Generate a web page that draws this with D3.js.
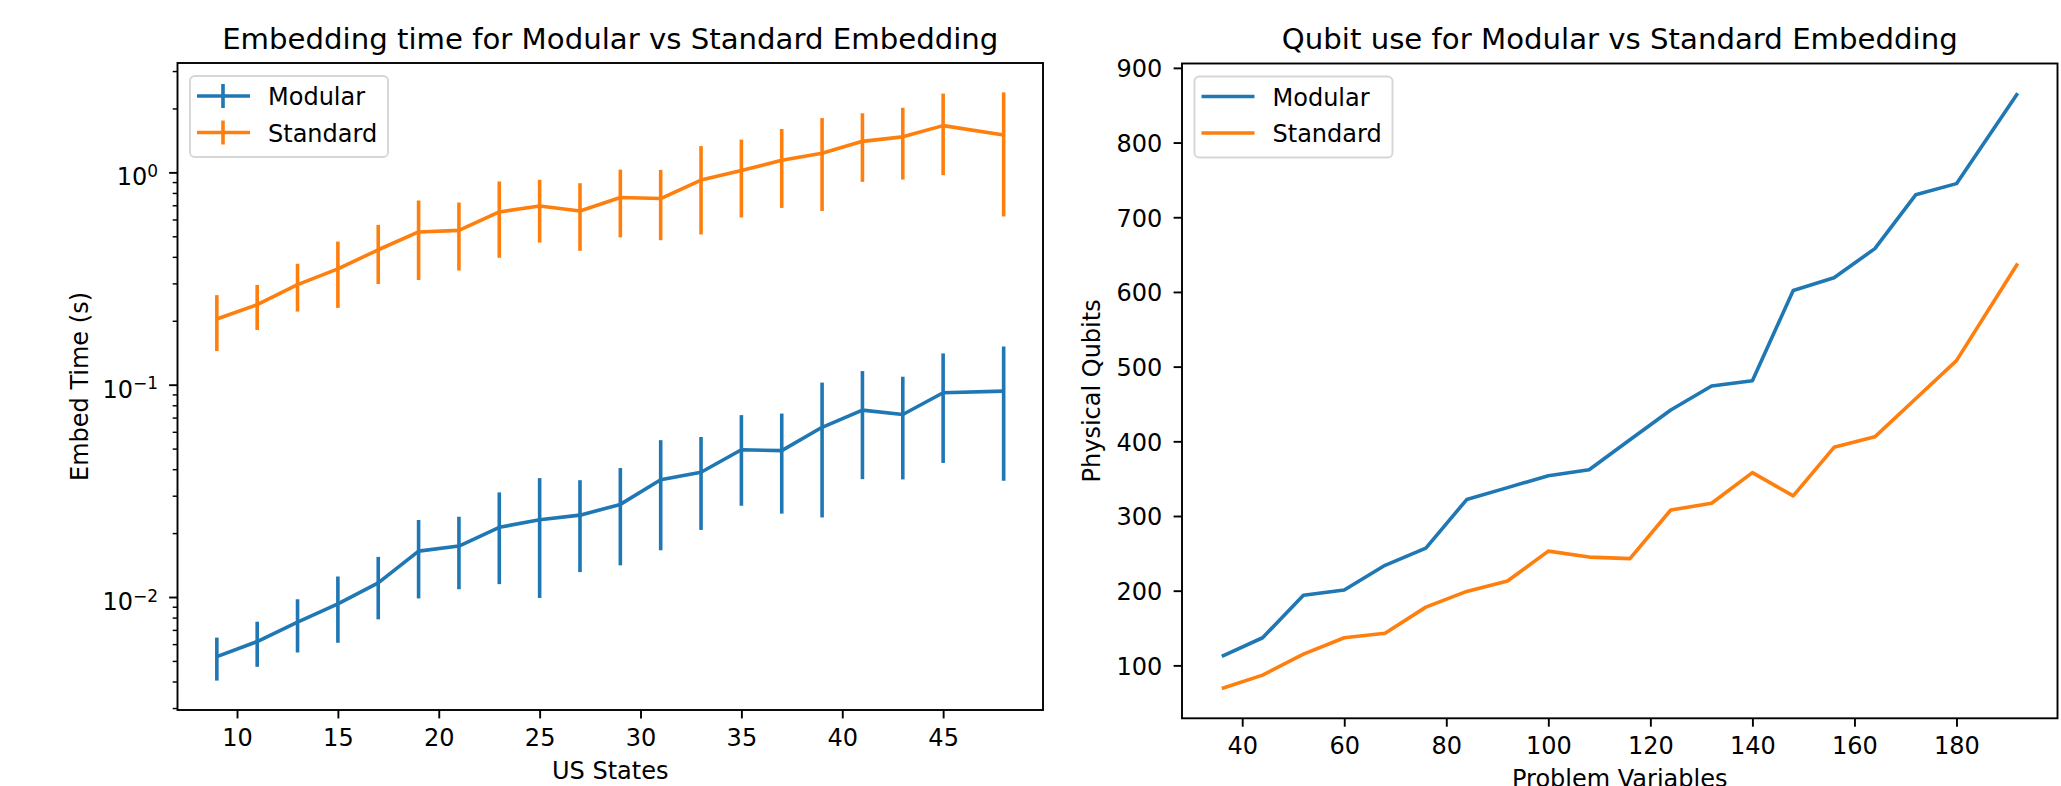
<!DOCTYPE html>
<html lang="en">
<head>
	<meta charset="utf-8">
	<title>Modular vs Standard Embedding</title>
	<script src="https://cdn.jsdelivr.net/npm/d3@7"></script>
	<style>
		body { margin: 0; background: #fff; }
		text { font-family: "DejaVu Sans", sans-serif; fill: #000; }
	</style>
</head>
<body>
	<script type="text/javascript">
        // US states in the problem and the mean / std of the embedding time (s)
        var usStates = [9, 11, 13, 15, 17, 19, 21, 23, 25, 27, 29, 31, 33, 35, 37, 39, 41, 43, 45, 48];
        var modularTime = [0.00524, 0.00617, 0.00762, 0.00929, 0.01165, 0.01645, 0.01738, 0.0213, 0.0231, 0.0243,
                           0.0273, 0.0357, 0.0387, 0.0494, 0.0489, 0.0630, 0.0759, 0.0724, 0.0916, 0.0933];
        var modularErr = [0.0012, 0.00148, 0.00214, 0.0032, 0.0038, 0.0066, 0.0065, 0.0098, 0.0132, 0.0112,
                          0.0132, 0.0191, 0.018, 0.0225, 0.0242, 0.0393, 0.040, 0.0366, 0.0488, 0.058];
        var standardTime = [0.204, 0.238, 0.296, 0.351, 0.432, 0.524, 0.533, 0.651, 0.695, 0.658,
                            0.762, 0.753, 0.920, 1.02, 1.14, 1.23, 1.40, 1.47, 1.66, 1.50];
        var standardErr = [0.060, 0.057, 0.075, 0.121, 0.134, 0.213, 0.188, 0.255, 0.228, 0.231,
                           0.268, 0.274, 0.41, 0.407, 0.46, 0.572, 0.498, 0.545, 0.69, 0.88];

        // problem variables and physical qubits used
        var problemVars = [36, 44, 52, 60, 68, 76, 84, 92, 100, 108, 116, 124, 132, 140, 148, 156, 164, 172, 180, 192];
        var modularQubits = [112, 137, 194, 201, 234, 257, 322, 338, 354, 362, 402, 442, 474, 481, 602, 619, 658, 730, 745, 866];
        var standardQubits = [69, 87, 115, 137, 143, 178, 199, 213, 253, 245, 243, 308, 317, 358, 327, 392, 406, 457, 508, 638];

        var seriesNames = ["Modular", "Standard"];
        var colors = ["#1f77b4", "#ff7f0e"];

        var width = 2061, height = 786;
        var fontSize = 24, titleSize = 29.2;
        var lineW = 3.6, spineW = 1.9;

        // axes boxes (pixels)
        var left = {x0: 177.5, x1: 1043, y0: 63, y1: 710};
        var right = {x0: 1182, x1: 2057.5, y0: 63.5, y1: 718.3};

        var svg = d3.select("body")
            .append("svg")
            .attr("width", width)
            .attr("height", height);

        // pad an extent by 5% like matplotlib does
        function padded(ext) {
            var p = 0.05 * (ext[1] - ext[0]);
            return [ext[0] - p, ext[1] + p];
        }

        /**
        ** Left chart: embedding time with error bars on a log axis
        **/
        var xL = d3.scaleLinear()
            .domain(padded(d3.extent(usStates)))
            .range([left.x0, left.x1]);

        var lows = [], highs = [];
        usStates.forEach(function(d, i) {
            lows.push(modularTime[i] - modularErr[i], standardTime[i] - standardErr[i]);
            highs.push(modularTime[i] + modularErr[i], standardTime[i] + standardErr[i]);
        });
        var logExt = padded([Math.log10(d3.min(lows)), Math.log10(d3.max(highs))]);
        var yL = d3.scaleLog()
            .domain([Math.pow(10, logExt[0]), Math.pow(10, logExt[1])])
            .range([left.y1, left.y0]);

        var gL = svg.append("g");
        var timeSeries = [[modularTime, modularErr], [standardTime, standardErr]];

        timeSeries.forEach(function(s, k) {
            var vals = s[0], errs = s[1];
            var line = d3.line()
                .x(function(d, i) { return xL(usStates[i]); })
                .y(function(d) { return yL(d); });
            gL.append("path")
                .datum(vals)
                .attr("d", line)
                .attr("fill", "none")
                .attr("stroke", colors[k])
                .attr("stroke-width", lineW)
                .attr("stroke-linejoin", "round");
            gL.selectAll(".err" + k)
                .data(vals)
                .enter()
                .append("line")
                .attr("x1", function(d, i) { return xL(usStates[i]); })
                .attr("x2", function(d, i) { return xL(usStates[i]); })
                .attr("y1", function(d, i) { return yL(d - errs[i]); })
                .attr("y2", function(d, i) { return yL(d + errs[i]); })
                .attr("stroke", colors[k])
                .attr("stroke-width", lineW);
        });

        // x axis
        var axL = svg.append("g")
            .attr("transform", "translate(0," + left.y1 + ")")
            .call(d3.axisBottom(xL).tickValues(d3.range(10, 46, 5)).tickSize(8.4).tickPadding(11).tickSizeOuter(0));
        styleAxis(axL);

        // y log axis: minor ticks then major ticks with 10^n labels
        var allTicks = yL.ticks();
        var majors = allTicks.filter(function(t) { return Math.abs(Math.log10(t) - Math.round(Math.log10(t))) < 1e-9; });
        var minors = allTicks.filter(function(t) { return majors.indexOf(t) < 0; });
        var minorAx = svg.append("g")
            .attr("transform", "translate(" + left.x0 + ",0)")
            .call(d3.axisLeft(yL).tickValues(minors).tickSize(4.8).tickFormat("").tickSizeOuter(0));
        styleAxis(minorAx);
        minorAx.selectAll(".tick line").attr("stroke-width", 1.45);

        var majorAx = svg.append("g")
            .attr("transform", "translate(" + left.x0 + ",0)")
            .call(d3.axisLeft(yL).tickValues(majors).tickSize(8.4).tickSizeOuter(0));
        styleAxis(majorAx);
        majorAx.selectAll(".tick text")
            .attr("x", -19.5)
            .attr("dy", null)
            .attr("y", 12.4)
            .text(null)
            .each(function(t) {
                var el = d3.select(this);
                var p = Math.round(Math.log10(t));
                el.append("tspan").text("10");
                el.append("tspan")
                    .attr("dy", -8.4)
                    .attr("font-size", 17)
                    .text(String(p).replace("-", "\u2212"));
            });

        frame(left);
        title(left, "Embedding time for Modular vs Standard Embedding");
        svg.append("text")
            .attr("x", (left.x0 + left.x1) / 2)
            .attr("y", 779)
            .attr("text-anchor", "middle")
            .attr("font-size", fontSize)
            .text("US States");
        yLabel(87.5, (left.y0 + left.y1) / 2, "Embed Time (s)");
        legend(left, true);

        /**
        ** Right chart: physical qubits used
        **/
        var xR = d3.scaleLinear()
            .domain(padded(d3.extent(problemVars)))
            .range([right.x0, right.x1]);
        var yR = d3.scaleLinear()
            .domain(padded(d3.extent(modularQubits.concat(standardQubits))))
            .range([right.y1, right.y0]);

        [modularQubits, standardQubits].forEach(function(vals, k) {
            var line = d3.line()
                .x(function(d, i) { return xR(problemVars[i]); })
                .y(function(d) { return yR(d); });
            svg.append("path")
                .datum(vals)
                .attr("d", line)
                .attr("fill", "none")
                .attr("stroke", colors[k])
                .attr("stroke-width", lineW)
                .attr("stroke-linejoin", "round");
        });

        var axRx = svg.append("g")
            .attr("transform", "translate(0," + right.y1 + ")")
            .call(d3.axisBottom(xR).tickValues(d3.range(40, 181, 20)).tickSize(8.4).tickPadding(10.5).tickSizeOuter(0));
        styleAxis(axRx);
        var axRy = svg.append("g")
            .attr("transform", "translate(" + right.x0 + ",0)")
            .call(d3.axisLeft(yR).tickValues(d3.range(100, 901, 100)).tickSize(8.4).tickPadding(11.4).tickSizeOuter(0));
        styleAxis(axRy);
        axRy.selectAll(".tick text").attr("dy", "0.37em");

        frame(right);
        title(right, "Qubit use for Modular vs Standard Embedding");
        svg.append("text")
            .attr("x", (right.x0 + right.x1) / 2)
            .attr("y", 787)
            .attr("text-anchor", "middle")
            .attr("font-size", fontSize)
            .text("Problem Variables");
        yLabel(1099.7, (right.y0 + right.y1) / 2, "Physical Qubits");
        legend(right, false);

        // helpers
        function styleAxis(g) {
            g.select(".domain").remove();
            g.selectAll(".tick line").attr("stroke", "#000").attr("stroke-width", spineW);
            g.selectAll(".tick text")
                .attr("fill", "#000")
                .attr("font-size", fontSize)
                .attr("font-family", "DejaVu Sans");
        }

        function frame(a) {
            svg.append("rect")
                .attr("x", a.x0)
                .attr("y", a.y0)
                .attr("width", a.x1 - a.x0)
                .attr("height", a.y1 - a.y0)
                .attr("fill", "none")
                .attr("stroke", "#000")
                .attr("stroke-width", spineW);
        }

        function title(a, txt) {
            svg.append("text")
                .attr("x", (a.x0 + a.x1) / 2)
                .attr("y", a.y0 - 14.5)
                .attr("text-anchor", "middle")
                .attr("font-size", titleSize)
                .text(txt);
        }

        function yLabel(x, y, txt) {
            svg.append("text")
                .attr("transform", "translate(" + x + "," + y + ") rotate(-90)")
                .attr("text-anchor", "middle")
                .attr("font-size", fontSize)
                .text(txt);
        }

        function legend(a, withBars) {
            var bx = a.x0 + 12.5, by = a.y0 + 13;
            var g = svg.append("g").attr("transform", "translate(" + bx + "," + by + ")");
            g.append("rect")
                .attr("width", 198)
                .attr("height", 81)
                .attr("rx", 4.8)
                .attr("fill", "#fff")
                .attr("fill-opacity", 0.8)
                .attr("stroke", "#d6d6d6")
                .attr("stroke-width", spineW);
            seriesNames.forEach(function(name, k) {
                var cy = 20 + k * 36.5;
                g.append("line")
                    .attr("x1", 7).attr("x2", 60)
                    .attr("y1", cy).attr("y2", cy)
                    .attr("stroke", colors[k])
                    .attr("stroke-width", lineW);
                if (withBars) {
                    g.append("line")
                        .attr("x1", 33).attr("x2", 33)
                        .attr("y1", cy - 12).attr("y2", cy + 12)
                        .attr("stroke", colors[k])
                        .attr("stroke-width", lineW);
                }
                g.append("text")
                    .attr("x", 78)
                    .attr("y", cy + 9.3)
                    .attr("font-size", fontSize)
                    .text(name);
            });
        }
	</script>
</body>
</html>
